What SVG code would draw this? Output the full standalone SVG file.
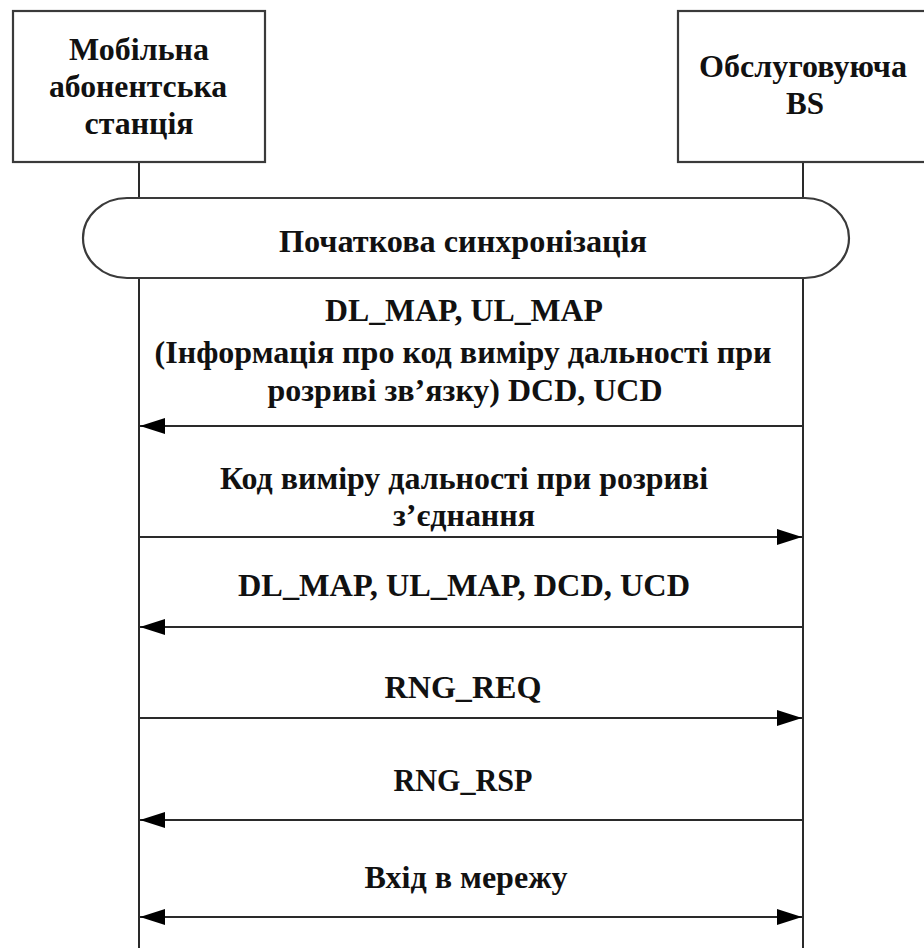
<svg xmlns="http://www.w3.org/2000/svg" width="924" height="948" viewBox="0 0 924 948">
<style>
.box{fill:#fff;stroke:#3a3a3a;stroke-width:2.2}
.life{stroke:#2a2a2a;stroke-width:2}
.msg{stroke:#2a2a2a;stroke-width:2;fill:none}
.t{font-family:"Liberation Serif","Times New Roman",serif;font-weight:bold;font-size:32px;fill:#111;text-anchor:middle}
</style>
<defs>
<marker id="ah" markerUnits="userSpaceOnUse" markerWidth="26" markerHeight="18" refX="25" refY="8" orient="auto-start-reverse" viewBox="0 0 26 16">
<path d="M0,0 L25,8 L0,16 z" fill="#000"/>
</marker>
</defs>
<rect width="924" height="948" fill="#fff"/>
<g id="lifelines">
<line class="life" x1="139" y1="162" x2="139" y2="948"/>
<line class="life" x1="803" y1="162" x2="803" y2="948"/>
</g>
<g id="ms">
<rect class="box" x="13" y="11" width="252" height="151"/>
<text class="t" x="139" y="60" textLength="140" lengthAdjust="spacingAndGlyphs">Мобільна</text>
<text class="t" x="138" y="97" textLength="178" lengthAdjust="spacingAndGlyphs">абонентська</text>
<text class="t" x="139" y="134" textLength="109" lengthAdjust="spacingAndGlyphs">станція</text>
</g>
<g id="bs">
<rect class="box" x="678" y="11" width="252" height="151"/>
<text class="t" x="803" y="77" textLength="208" lengthAdjust="spacingAndGlyphs">Обслуговуюча</text>
<text class="t" x="805" y="114" textLength="38" lengthAdjust="spacingAndGlyphs">BS</text>
</g>
<g id="sync">
<rect class="box" x="83" y="198" width="766" height="80" rx="44" ry="40"/>
<text class="t" x="463" y="252" textLength="368" lengthAdjust="spacingAndGlyphs">Початкова синхронізація</text>
</g>
<g id="connectors">
<line class="msg" x1="803" y1="426" x2="140" y2="426" marker-end="url(#ah)"/>
<line class="msg" x1="139" y1="537" x2="802" y2="537" marker-end="url(#ah)"/>
<line class="msg" x1="803" y1="627" x2="140" y2="627" marker-end="url(#ah)"/>
<line class="msg" x1="139" y1="718" x2="802" y2="718" marker-end="url(#ah)"/>
<line class="msg" x1="803" y1="820" x2="140" y2="820" marker-end="url(#ah)"/>
<line class="msg" x1="140" y1="917" x2="802" y2="917" marker-start="url(#ah)" marker-end="url(#ah)"/>
</g>
<g id="labels">
<text class="t" x="464" y="321" textLength="278" lengthAdjust="spacingAndGlyphs">DL_MAP, UL_MAP</text>
<text class="t" x="463" y="363" textLength="617" lengthAdjust="spacingAndGlyphs">(Інформація про код виміру дальності при</text>
<text class="t" x="465" y="401" textLength="395" lengthAdjust="spacingAndGlyphs">розриві зв’язку) DCD, UCD</text>
<text class="t" x="464" y="489" textLength="488" lengthAdjust="spacingAndGlyphs">Код виміру дальності при розриві</text>
<text class="t" x="464" y="526" textLength="142" lengthAdjust="spacingAndGlyphs">з’єднання</text>
<text class="t" x="464" y="596" textLength="452" lengthAdjust="spacingAndGlyphs">DL_MAP, UL_MAP, DCD, UCD</text>
<text class="t" x="463" y="698" textLength="157" lengthAdjust="spacingAndGlyphs">RNG_REQ</text>
<text class="t" x="463" y="791" textLength="139" lengthAdjust="spacingAndGlyphs">RNG_RSP</text>
<text class="t" x="466" y="888" textLength="203" lengthAdjust="spacingAndGlyphs">Вхід в мережу</text>
</g>
</svg>
